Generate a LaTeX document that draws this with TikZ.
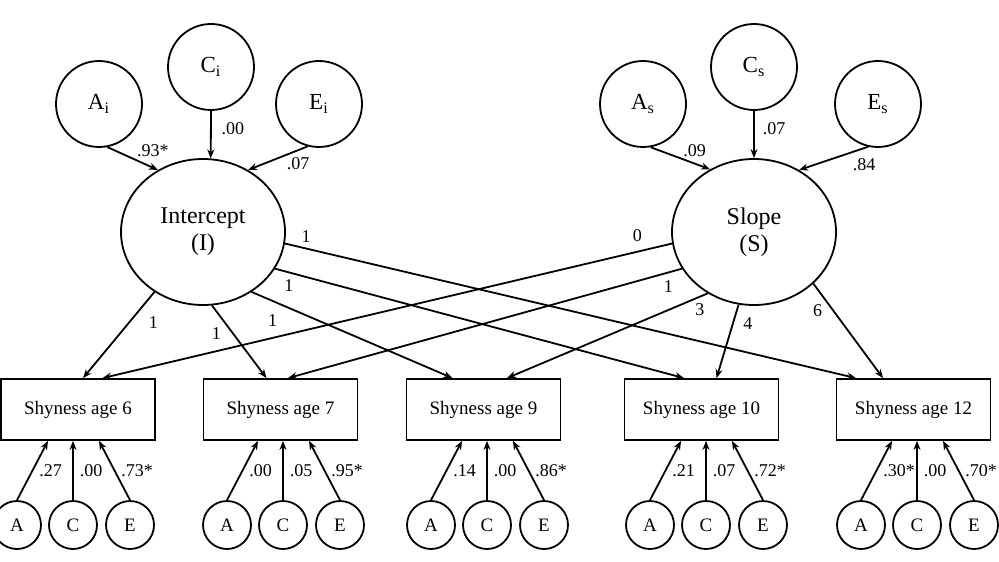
\documentclass[tikz,border=0pt]{standalone}
\usepackage{fontspec}
\setmainfont{Liberation Serif}
\usetikzlibrary{shapes.geometric,arrows.meta,calc}

\begin{document}
\begin{tikzpicture}[x=0.5pt,y=-0.5pt,
  line width=0.9pt,
  >={Stealth[length=4.5pt,width=3.5pt]},
  bigvar/.style={circle,draw,minimum size=43pt,inner sep=0pt,
    font=\fontsize{11.5}{13}\selectfont},
  growth/.style={ellipse,draw,minimum width=82pt,minimum height=73pt,
    inner sep=0pt,align=center,font=\fontsize{12}{13.5}\selectfont},
  obs/.style={rectangle,draw,minimum width=77pt,minimum height=30.5pt,
    inner sep=0pt,font=\fontsize{9.5}{11}\selectfont},
  smallvar/.style={circle,draw,minimum size=24pt,inner sep=0pt,
    font=\fontsize{9.5}{11}\selectfont},
  coef/.style={font=\fontsize{9}{10}\selectfont,inner sep=1pt}]

  \useasboundingbox (0,0) rectangle (999,561);

  % growth factors
  \node[growth] (I) at (203,232) {Intercept\\(I)};
  \node[growth] (S) at (754,232) {Slope\\(S)};

  % ACE of the intercept
  \node[bigvar] (Ai) at (99,104) {A\textsubscript{i}};
  \node[bigvar] (Ci) at (211,67) {C\textsubscript{i}};
  \node[bigvar] (Ei) at (319,104) {E\textsubscript{i}};
  \draw[->] (Ai.281) -- node[coef,pos=0.9,yshift=8.5pt] {.93*} (I.126);
  \draw[->] (Ci.south) -- node[coef,pos=0.37,xshift=11pt] {.00} (I.84);
  \draw[->] (Ei.255) -- node[coef,pos=0.16,yshift=-6.5pt] {.07} (I.54);

  % ACE of the slope
  \node[bigvar] (As) at (643,104) {A\textsubscript{s}};
  \node[bigvar] (Cs) at (754,67) {C\textsubscript{s}};
  \node[bigvar] (Es) at (878,104) {E\textsubscript{s}};
  \draw[->] (As.280) -- node[coef,pos=0.74,yshift=6.5pt] {.09} (S.125);
  \draw[->] (Cs.south) -- node[coef,pos=0.37,xshift=10pt] {.07} (S.north);
  \draw[->] (Es.257) -- node[coef,pos=0.06,yshift=-8pt] {.84} (S.54);

  % observed shyness
  \foreach \n/\x in {6/78,7/280.5,9/483.5,10/701.5,12/913.5}
    \node[obs] (b\n) at (\x,409.5) {Shyness age \n};

  % intercept loadings
  \draw[->] (I.231) -- node[coef,pos=0.35,xshift=12pt] {1} ($(b6.north)+(5,0)$);
  \draw[->] (I.277) -- node[coef,pos=0.39,xshift=-8.5pt] {1} ($(b7.north)+(-14,0)$);
  \draw[->] (I.309) -- node[coef,pos=0.105,yshift=-10pt] {1} ($(b9.north)+(-31,0)$);
  \draw[->] (I.333) -- node[coef,pos=0.034,yshift=-6.5pt] {1} ($(b10.north)+(-17.5,0)$);
  \draw[->] (I.352) -- node[coef,pos=0.037,yshift=6pt] {1} ($(b12.north)+(-57.5,0)$);

  % slope loadings
  \draw[->] (S.188) -- node[coef,pos=0.061,yshift=8pt] {0} ($(b6.north)+(24.5,0)$);
  \draw[->] (S.207) -- node[coef,pos=0.035,yshift=-7pt] {1} ($(b7.north)+(7.5,0)$);
  \draw[->] (S.233) -- node[coef,pos=0.04,yshift=-6.5pt] {3} ($(b9.north)+(23.5,0)$);
  \draw[->] (S.258) -- node[coef,pos=0.26,xshift=7.5pt] {4} ($(b10.north)+(15,0)$);
  \draw[->] (S.319) -- node[coef,pos=0.29,xshift=-8pt] {6} ($(b12.north)+(-30.5,0)$);

  % ACE of each age
  \foreach \n/\c/\pa/\pc/\pe in {6/73/.27/.00/.73*,7/283/.00/.05/.95*,
      9/487/.14/.00/.86*,10/706/.21/.07/.72*,12/917/.30*/.00/.70*}{
    \node[smallvar] (a\n) at (\c-56,525) {A};
    \node[smallvar] (c\n) at (\c,525) {C};
    \node[smallvar] (e\n) at (\c+57,525) {E};
    \draw[->] (a\n.north) -- node[coef,right=2pt] {\pa} ([xshift=-12.5pt]c\n.north |- b\n.south);
    \draw[->] (c\n.north) -- node[coef,right=2pt] {\pc} (c\n.north |- b\n.south);
    \draw[->] (e\n.north) -- node[coef,right=2pt] {\pe} ([xshift=13pt]c\n.north |- b\n.south);
  }

\end{tikzpicture}
\end{document}
